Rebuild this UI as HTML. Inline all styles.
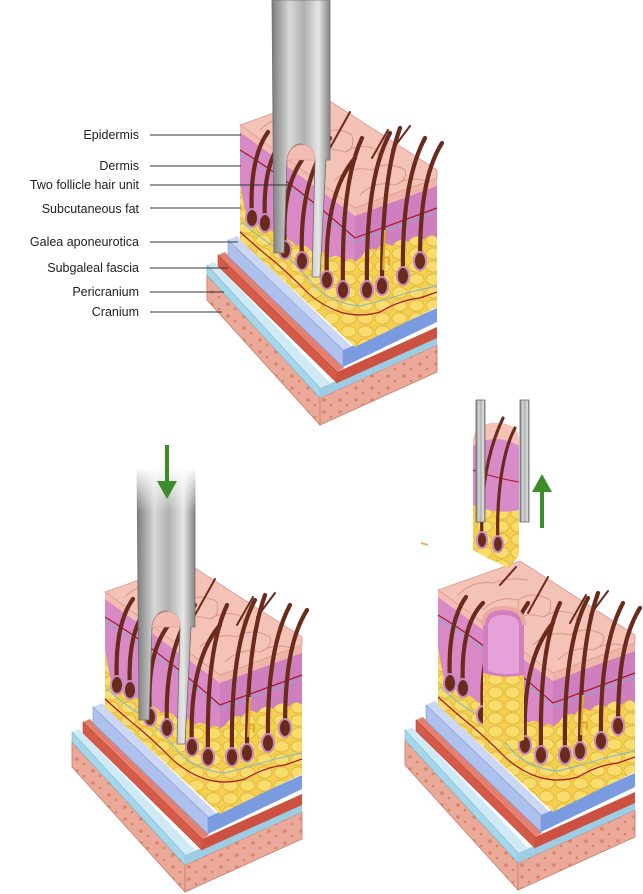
<!DOCTYPE html>
<html><head><meta charset="utf-8"><style>
html,body{margin:0;padding:0;background:#fff;}
svg{display:block;}
text{font-family:"Liberation Sans",sans-serif;font-size:12.5px;fill:#222;}
</style></head><body>
<svg width="643" height="894" viewBox="0 0 643 894" xmlns="http://www.w3.org/2000/svg">
<defs>
<pattern id="fat" width="17" height="13" patternUnits="userSpaceOnUse">
<rect width="17" height="13" fill="#f3cf52"/>
<ellipse cx="8.5" cy="6.5" rx="7.5" ry="5.6" fill="#f8dc6c" stroke="#deae34" stroke-width="0.7"/>
</pattern>
<pattern id="bone" width="16" height="12" patternUnits="userSpaceOnUse">
<rect width="16" height="12" fill="#eba99a"/>
<circle cx="4" cy="4" r="1.8" fill="#d9826c"/><circle cx="11" cy="9" r="1.3" fill="#d9826c"/>
</pattern>
<linearGradient id="tube" x1="0" x2="1" y1="0" y2="0">
<stop offset="0" stop-color="#7c7c7c"/><stop offset="0.3" stop-color="#d8d8d8"/><stop offset="0.55" stop-color="#b0b0b0"/><stop offset="0.8" stop-color="#e6e6e6"/><stop offset="1" stop-color="#858585"/>
</linearGradient>
<linearGradient id="fade" x1="0" x2="0" y1="0" y2="1">
<stop offset="0" stop-color="#fff" stop-opacity="1"/><stop offset="1" stop-color="#fff" stop-opacity="0"/>
</linearGradient>
<g id="block">
<polygon points="207,275 320,398 320,425 207,300" fill="url(#bone)" stroke="#c97a68" stroke-width="0.8"/>
<polygon points="320,398 437,345 437,372 320,425" fill="url(#bone)" stroke="#c97a68" stroke-width="0.8"/>
<polygon points="207,265 214,262 330,383 320,388" fill="#cfeaf5"/>
<polygon points="207,265 320,388 320,398 207,275" fill="#a6d6ea" stroke="#7fb6d0" stroke-width="0.6"/>
<polygon points="320,388 437,336 437,345 320,398" fill="#9ccde4"/>
<polygon points="218,255 225,252 344,368 337,372" fill="#e4806f"/>
<polygon points="218,255 337,372 337,383 218,266" fill="#d65a48" stroke="#b94736" stroke-width="0.6"/>
<polygon points="337,372 437,327 437,338 337,383" fill="#cc5140"/>
<polygon points="228,240 237,236 351,346 343,350" fill="#cbd7f3"/>
<polygon points="228,240 343,350 343,367 228,256" fill="#adc1ec" stroke="#7d98d8" stroke-width="0.6"/>
<polygon points="343,350 437,308 437,322 343,367" fill="#7b9be0"/>
<polygon points="240,125 355,208 355,347 240,240" fill="url(#fat)"/>
<polygon points="355,208 437,178 437,307 355,347" fill="url(#fat)"/>
<path d="M240,128 L355,212 L355,262 Q350,255 345,262 Q338,252 330,258 Q322,248 312,252 Q305,242 296,246 Q288,236 280,238 Q272,228 264,230 Q256,220 250,224 Q245,215 240,182 Z" fill="#d889c6"/>
<path d="M355,212 L437,182 L437,238 Q430,232 424,240 Q416,232 408,242 Q400,236 392,246 Q384,240 376,250 Q368,246 362,256 L355,262 Z" fill="#cf7fbd"/>
<path d="M240,150 Q290,180 355,238 L437,208" fill="none" stroke="#a21b2a" stroke-width="1.2"/>
<path d="M240,154 Q290,184 355,242 L437,212" fill="none" stroke="#6fb8dd" stroke-width="0.8"/>
<polygon points="240,125 355,208 355,216 240,132" fill="#f3bdb2"/>
<polygon points="355,208 437,178 437,186 355,216" fill="#f0b3a8"/>
<polygon points="240,125 322,96 437,170 437,178 355,208" fill="#f4c2b7" stroke="#d99a8e" stroke-width="0.8"/>
<g fill="none" stroke="#d9958a" stroke-width="0.9">
<path d="M260,130 Q275,115 295,118 M295,118 Q310,112 330,115 M285,145 Q300,130 320,135 Q335,125 352,135 M310,160 Q325,145 345,152 Q360,142 378,150 M335,180 Q350,165 372,170 Q388,160 405,170 M360,195 Q375,180 395,185 Q410,175 430,182 M320,135 Q322,150 310,160 M352,135 Q355,150 345,152 M378,150 Q380,165 372,170 M405,170 Q408,180 395,185"/>
</g>
<path d="M240,232 Q260,250 275,262 Q290,275 305,290 Q320,305 340,312 Q360,318 380,312 Q400,300 420,298 L437,292" fill="none" stroke="#a21b2a" stroke-width="1.2"/>
<path d="M242,222 Q262,240 280,250 Q300,268 318,290 Q340,305 360,306 Q385,300 410,292 L437,286" fill="none" stroke="#6fb8dd" stroke-width="0.9"/>
<g fill="none" stroke="#6a2a1c" stroke-width="4.2" stroke-linecap="round">
<path d="M252,218 C250,180 255,150 268,132"/>
<path d="M265,223 C263,185 268,155 285,138"/>
<path d="M285,250 C282,200 290,170 312,148"/>
<path d="M302,261 C300,210 308,170 330,138"/>
<path d="M327,280 C325,230 332,185 355,158"/>
<path d="M343,290 C342,230 345,175 362,138"/>
<path d="M367,290 C366,230 370,170 390,133"/>
<path d="M382,286 C382,230 385,170 400,128"/>
<path d="M403,276 C402,220 408,170 425,138"/>
<path d="M420,261 C420,210 425,170 442,143"/>
</g>
<g fill="none" stroke="#6a2a1c" stroke-width="2" stroke-linecap="round">
<path d="M330,148 L350,112"/><path d="M372,158 L388,130"/><path d="M392,150 L410,126"/><path d="M302,120 L318,102"/>
</g>
<g fill="#6a2a1c" stroke="#c68ac0" stroke-width="2">
<ellipse cx="252" cy="218" rx="6" ry="9"/><ellipse cx="265" cy="223" rx="6" ry="9"/>
<ellipse cx="285" cy="250" rx="6" ry="9"/><ellipse cx="302" cy="261" rx="6" ry="9"/>
<ellipse cx="327" cy="280" rx="6" ry="9"/><ellipse cx="343" cy="290" rx="6" ry="9"/>
<ellipse cx="367" cy="290" rx="6" ry="9"/><ellipse cx="382" cy="286" rx="6" ry="9"/>
<ellipse cx="403" cy="276" rx="6" ry="9"/><ellipse cx="420" cy="261" rx="6" ry="9"/>
</g>
<path d="M385,230 L383,270 M383,258 Q392,255 388,265" fill="none" stroke="#e0a828" stroke-width="2"/>
</g>
<g id="tubeg">
<path d="M272,0 L330,0 L330,160 L326,160 L320,277 L312,277 L315,160 Q306,140 296,145 Q288,150 287,160 L284,253 L274,253 Z" fill="url(#tube)" stroke="#6f6f6f" stroke-width="0.8"/>
<path d="M287,160 Q290,143 305,145 Q315,147 315,160 Z" fill="#f2bcb1" stroke="#d99a8e" stroke-width="0.6"/>
</g>
</defs>

<use href="#block"/>
<use href="#tubeg"/>

<g>
<text x="139" y="139" text-anchor="end">Epidermis</text>
<text x="139" y="170" text-anchor="end">Dermis</text>
<text x="139" y="189" text-anchor="end">Two follicle hair unit</text>
<text x="139" y="213" text-anchor="end">Subcutaneous fat</text>
<text x="139" y="246" text-anchor="end">Galea aponeurotica</text>
<text x="139" y="272" text-anchor="end">Subgaleal fascia</text>
<text x="139" y="296" text-anchor="end">Pericranium</text>
<text x="139" y="316" text-anchor="end">Cranium</text>
</g>
<g stroke="#333" stroke-width="0.9">
<line x1="150" y1="135" x2="241" y2="135"/>
<line x1="150" y1="166" x2="241" y2="166"/>
<line x1="150" y1="185" x2="290" y2="185"/>
<line x1="150" y1="208" x2="241" y2="208"/>
<line x1="150" y1="242" x2="238" y2="242"/>
<line x1="150" y1="268" x2="228" y2="268"/>
<line x1="150" y1="292" x2="224" y2="292"/>
<line x1="150" y1="312" x2="222" y2="312"/>
</g>

<g transform="translate(-135,467)">
<use href="#block"/>
<use href="#tubeg"/>
<rect x="268" y="0" width="66" height="45" fill="url(#fade)"/>
<rect x="268" y="-20" width="66" height="22" fill="#fff"/>
</g>
<line x1="167" y1="445" x2="167" y2="484" stroke="#3b8d2c" stroke-width="4"/>
<polygon points="157,481 177,481 167,499" fill="#3b8d2c"/>

<g transform="translate(198,465)">
<use href="#block"/>
<path d="M285,160 Q286,143 305,143 Q325,143 326,160 L326,275 Q305,282 285,270 Z" fill="url(#fat)"/>
<path d="M285,160 Q286,143 305,143 Q325,143 326,160 L326,210 Q305,214 285,208 Z" fill="#d27fc2"/>
<path d="M290,160 Q292,150 305,150 Q320,150 321,160 L321,208 Q305,211 290,206 Z" fill="#e6a2d8"/>
<path d="M285,160 Q286,143 305,143 Q325,143 326,160" fill="none" stroke="#e9aaa0" stroke-width="4"/>
</g>
<g>
<path d="M473,440 Q475,423 496,423 Q518,423 519,440 L519,555 L509,568 Q490,560 473,550 Z" fill="url(#fat)"/>
<path d="M473,440 Q475,423 496,423 Q518,423 519,440 L519,510 Q496,515 473,505 Z" fill="#d98ac8"/>
<path d="M473,440 Q475,423 496,423 Q518,423 519,440 L519,446 Q496,432 473,446 Z" fill="#f4c2b7"/>
<path d="M473,470 Q495,478 519,482" fill="none" stroke="#a21b2a" stroke-width="1"/>
<g fill="none" stroke="#6a2a1c" stroke-width="3.2" stroke-linecap="round">
<path d="M482,540 C480,490 488,450 503,418"/><path d="M498,544 C496,495 503,450 515,428"/>
</g>
<g fill="#6a2a1c" stroke="#c68ac0" stroke-width="2"><ellipse cx="482" cy="540" rx="5" ry="8"/><ellipse cx="498" cy="544" rx="5" ry="8"/></g>
<rect x="476" y="400" width="9" height="122" fill="url(#tube)" stroke="#666" stroke-width="0.8"/>
<rect x="520" y="400" width="9" height="122" fill="url(#tube)" stroke="#666" stroke-width="0.8"/>
</g>
<line x1="542" y1="528" x2="542" y2="488" stroke="#3b8d2c" stroke-width="4"/>
<polygon points="532,492 552,492 542,474" fill="#3b8d2c"/>
<path d="M421,543 L428,545" stroke="#e8b850" stroke-width="2"/>
</svg>
</body></html>
